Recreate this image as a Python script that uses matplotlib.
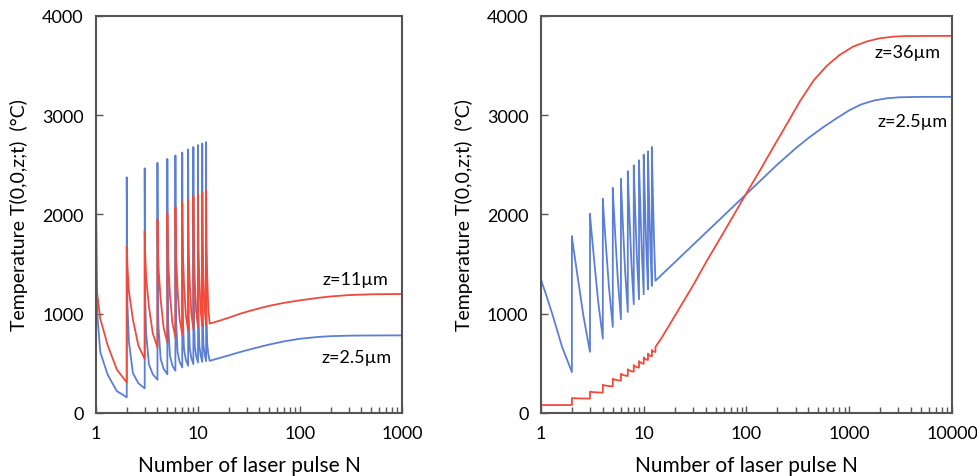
import matplotlib
matplotlib.use("Agg")
import matplotlib.pyplot as plt
from matplotlib.ticker import FixedLocator, NullFormatter

plt.rcParams['font.family'] = ['Lato', 'DejaVu Sans']

# sampling offsets inside one pulse period (fraction of a pulse after pulse N)
offsets = [0, 0.03, 0.1, 0.3, 0.6, 1.0]

# ---- left panel: z=2.5um (blue) and z=11um (red), pulses N=1..12 ----
lb_peak = [2230, 2375, 2465, 2520, 2560, 2595, 2625, 2655, 2680, 2700, 2715, 2730]
lb_d03 = [987, 1099, 1187, 1242, 1279, 1313, 1336, 1357, 1377, 1389, 1399, 1408]
lb_d10 = [614, 716, 804, 859, 895, 929, 949, 968, 987, 996, 1004, 1011]
lb_d30 = [386, 400, 490, 545, 580, 614, 635, 652, 670, 680, 690, 695]
lb_d60 = [220, 300, 390, 445, 480, 515, 535, 552, 570, 580, 590, 595]
lb_trough = [158, 248, 335, 390, 425, 459, 476, 492, 509, 515, 522, 526]
lb_tail_n = [13, 14, 16, 20, 25, 30, 40, 50, 70, 100, 150, 200, 300, 500, 1000]
lb_tail_t = [526, 535, 552, 580, 610, 632, 665, 690, 722, 748, 766, 774, 779, 781, 782]

lr_peak = [1380, 1680, 1830, 1950, 2017, 2077, 2117, 2150, 2184, 2208, 2228, 2244]
lr_d03 = [1187, 1475, 1620, 1727, 1791, 1846, 1885, 1915, 1946, 1968, 1986, 2002]
lr_d10 = [951, 1225, 1362, 1454, 1514, 1564, 1601, 1628, 1655, 1676, 1690, 1707]
lr_d30 = [683, 941, 1070, 1144, 1200, 1243, 1279, 1301, 1324, 1343, 1354, 1371]
lr_d60 = [437, 680, 801, 859, 911, 948, 982, 1001, 1020, 1037, 1045, 1062]
lr_trough = [308, 543, 661, 710, 760, 794, 827, 844, 861, 877, 884, 901]
lr_tail_n = [13, 14, 16, 20, 25, 30, 40, 50, 70, 100, 150, 200, 300, 500, 1000]
lr_tail_t = [901, 910, 928, 960, 995, 1020, 1055, 1080, 1110, 1135, 1160, 1174, 1188, 1196, 1199]

# ---- right panel: z=2.5um (blue) and z=36um (red) ----
rb_peak = [1350, 1782, 2007, 2158, 2268, 2359, 2435, 2495, 2546, 2603, 2636, 2680]
rb_d03 = [1303, 1724, 1944, 2093, 2202, 2292, 2368, 2428, 2479, 2535, 2568, 2613]
rb_d10 = [1219, 1619, 1831, 1977, 2083, 2171, 2247, 2306, 2357, 2413, 2446, 2491]
rb_d30 = [985, 1339, 1529, 1667, 1765, 1849, 1926, 1982, 2033, 2087, 2121, 2168]
rb_d60 = [670, 966, 1127, 1254, 1342, 1420, 1497, 1551, 1601, 1653, 1687, 1737]
rb_trough = [412, 616, 750, 867, 945, 1018, 1095, 1146, 1196, 1246, 1280, 1333]
rb_tail_n = [13, 20, 30, 50, 100, 200, 300, 400, 560, 750, 1000, 1300, 1720, 2300, 3100, 5000, 10000]
rb_tail_t = [1333, 1517, 1691, 1910, 2207, 2504, 2665, 2770, 2880, 2968, 3050, 3108, 3147, 3170, 3181, 3185, 3185]

rr_peak = [80, 150, 215, 285, 345, 395, 440, 482, 522, 560, 598, 635]
rr_d03 = [80, 150, 214, 283, 343, 393, 438, 480, 520, 558, 596, 633]
rr_d10 = [80, 149, 212, 280, 340, 390, 434, 476, 516, 554, 592, 629]
rr_d30 = [80, 147, 209, 275, 334, 383, 427, 468, 508, 546, 584, 622]
rr_d60 = [80, 146, 207, 271, 329, 377, 420, 461, 500, 538, 575, 618]
rr_trough = [80, 145, 205, 268, 325, 373, 416, 457, 496, 534, 571, 615]
rr_tail_n = [13, 15, 20, 30, 41, 60, 99, 140, 183, 250, 331, 450, 600, 800, 1090, 1500, 1975, 2700, 3600, 10000]
rr_tail_t = [665, 760, 975, 1280, 1530, 1820, 2207, 2470, 2680, 2920, 3140, 3350, 3494, 3605, 3691, 3745, 3775, 3792, 3798, 3800]

blue = '#5b7fd6'
red = '#f04a3c'


def build(cols, tail_n, tail_t):
    n, t = [], []
    for k in range(len(cols[0])):
        for off, col in zip(offsets, cols):
            n.append(k + 1 + off)
            t.append(col[k])
    return n + tail_n, t + tail_t


def style(ax, xmax, xlabels):
    ax.set_xscale('log')
    ax.set_xlim(1, xmax)
    ax.set_ylim(0, 4000)
    ax.set_yticks([0, 1000, 2000, 3000, 4000])
    majors = [10 ** i for i in range(len(xlabels))]
    ax.xaxis.set_major_locator(FixedLocator(majors))
    ax.set_xticklabels(xlabels)
    minors = [m * 10 ** i for i in range(len(xlabels) - 1) for m in range(2, 10)]
    ax.xaxis.set_minor_locator(FixedLocator(minors))
    ax.xaxis.set_minor_formatter(NullFormatter())
    ax.tick_params(which='both', direction='in', top=False, right=False,
                   labelsize=13, pad=9, color='#555555')
    ax.tick_params(which='major', length=5, width=1)
    ax.tick_params(which='minor', length=4, width=1)
    for s in ax.spines.values():
        s.set_color('#555555')
        s.set_linewidth(1.5)
    ax.set_xlabel('Number of laser pulse N', fontsize=15, labelpad=10)
    ax.set_ylabel('Temperature T(0,0,z;t)  (°C)', fontsize=14, labelpad=10)


fig = plt.figure(figsize=(9.77, 4.77), dpi=100)
ax1 = fig.add_axes([0.0983, 0.1321, 0.3132, 0.8323])
ax2 = fig.add_axes([0.5537, 0.1321, 0.4207, 0.8323])

# left
n, t = build([lb_peak, lb_d03, lb_d10, lb_d30, lb_d60, lb_trough], lb_tail_n, lb_tail_t)
ax1.plot(n, t, color=blue, lw=1.3)
n, t = build([lr_peak, lr_d03, lr_d10, lr_d30, lr_d60, lr_trough], lr_tail_n, lr_tail_t)
ax1.plot(n, t, color=red, lw=1.3)
style(ax1, 1000, ['1', '10', '100', '1000'])
ax1.text(350, 1350, 'z=11µm', fontsize=13, ha='center', va='center')
ax1.text(355, 560, 'z=2.5µm', fontsize=13, ha='center', va='center')

# right
n, t = build([rb_peak, rb_d03, rb_d10, rb_d30, rb_d60, rb_trough], rb_tail_n, rb_tail_t)
ax2.plot(n, t, color=blue, lw=1.3)
n, t = build([rr_peak, rr_d03, rr_d10, rr_d30, rr_d60, rr_trough], rr_tail_n, rr_tail_t)
ax2.plot(n, t, color=red, lw=1.3)
style(ax2, 10000, ['1', '10', '100', '1000', '10000'])
ax2.text(3700, 3640, 'z=36µm', fontsize=13, ha='center', va='center')
ax2.text(4100, 2940, 'z=2.5µm', fontsize=13, ha='center', va='center')

fig.savefig('out.png', dpi=100)
